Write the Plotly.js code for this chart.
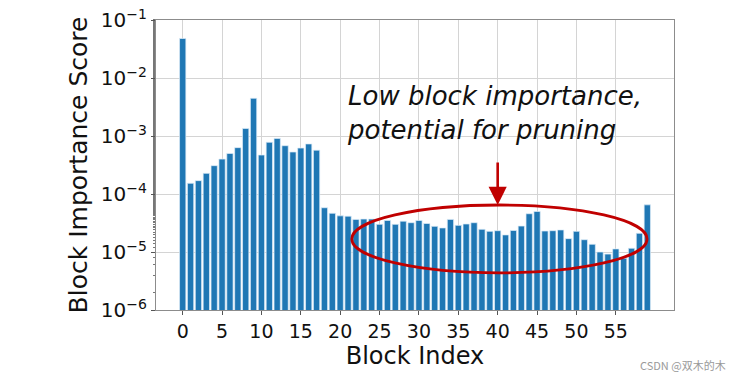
<!DOCTYPE html>
<html>
<head>
<meta charset="utf-8">
<script src="https://cdn.plot.ly/plotly-3.0.1.min.js"></script>
<style>html,body{margin:0;padding:0;background:#fff;}#chart{width:739px;height:378px;}</style>
</head>
<body>
<div id="chart"></div>
<script>
// Block indices 0..59
const blockIndex = [0,1,2,3,4,5,6,7,8,9,10,11,12,13,14,15,16,17,18,19,20,21,22,23,24,25,26,27,28,29,30,31,32,33,34,35,36,37,38,39,40,41,42,43,44,45,46,47,48,49,50,51,52,53,54,55,56,57,58,59];
// Block importance scores
const importance = [
  4.8e-2, 1.53e-4, 1.7e-4, 2.27e-4, 3.08e-4, 4.0e-4, 5.0e-4, 6.3e-4, 1.35e-3, 4.47e-3,
  4.7e-4, 7.8e-4, 9.1e-4, 6.8e-4, 5.3e-4, 6.2e-4, 7.3e-4, 5.7e-4, 5.8e-5, 4.65e-5,
  4.2e-5, 4.15e-5, 3.65e-5, 3.7e-5, 3.7e-5, 3.0e-5, 3.5e-5, 3.0e-5, 3.4e-5, 3.2e-5,
  3.5e-5, 3.1e-5, 2.77e-5, 2.6e-5, 3.65e-5, 2.88e-5, 3.04e-5, 3.2e-5, 2.46e-5, 2.27e-5,
  2.33e-5, 1.97e-5, 2.35e-5, 2.8e-5, 4.57e-5, 5.0e-5, 2.3e-5, 2.33e-5, 2.4e-5, 1.7e-5,
  2.27e-5, 1.63e-5, 1.36e-5, 1.0e-5, 9.2e-6, 1.13e-5, 7.8e-6, 1.16e-5, 2.1e-5, 6.5e-5
];
const xTickVals = [0,5,10,15,20,25,30,35,40,45,50,55];
const yTickVals = [1e-6,1e-5,1e-4,1e-3,1e-2,1e-1];
const yTickText = ['10<sup>−6</sup>','10<sup>−5</sup>','10<sup>−4</sup>','10<sup>−3</sup>','10<sup>−2</sup>','10<sup>−1</sup>'];
const xTitle = 'Block Index';
const yTitle = 'Block Importance Score';
const noteText = 'Low block importance,<br>potential for pruning';
const arrowBlock = 40;
const watermark = 'CSDN @双木的木';

const font = 'DejaVu Sans, sans-serif';
const red = '#c00000';

const trace = {
  type: 'bar',
  x: blockIndex,
  y: importance,
  width: 0.8,
  marker: {color: '#1f77b4', line: {color: 'rgba(220,235,248,0.9)', width: 0.8}},
  hoverinfo: 'x+y'
};

const layout = {
  width: 739, height: 378,
  margin: {l: 156, r: 65, t: 20, b: 68, pad: 0},
  paper_bgcolor: '#fff', plot_bgcolor: '#fff',
  showlegend: false,
  font: {family: font, color: '#111', size: 19},
  xaxis: {
    range: [-3.39, 62.39],
    tickvals: xTickVals,
    ticks: 'outside', ticklen: 4, tickcolor: '#555', tickwidth: 1,
    showgrid: true, gridcolor: '#d4d4d4', gridwidth: 1,
    zeroline: false,
    showline: true, linecolor: '#8c8c8c', linewidth: 1.2, mirror: true,
    tickfont: {family: font, size: 19, color: '#111'},
    title: {text: xTitle, font: {family: font, size: 24, color: '#111'}, standoff: 5}
  },
  yaxis: {
    type: 'log',
    range: [-6, -1],
    tickvals: yTickVals,
    ticktext: yTickText,
    ticks: 'outside', ticklen: 4, tickcolor: '#555', tickwidth: 1,
    minor: {ticks: 'outside', ticklen: 2, tickcolor: '#777', showgrid: false},
    showgrid: true, gridcolor: '#d4d4d4', gridwidth: 1,
    zeroline: false,
    showline: true, linecolor: '#8c8c8c', linewidth: 1.2, mirror: true,
    tickfont: {family: font, size: 20, color: '#111'},
    title: {text: yTitle, font: {family: font, size: 25, color: '#111'}, standoff: 6}
  },
  shapes: [{
    type: 'circle', xref: 'paper', yref: 'paper',
    x0: 0.378, x1: 0.948, y0: 0.128, y1: 0.362,
    line: {color: red, width: 2.8}
  }],
  annotations: [
    {
      xref: 'x', yref: 'paper', x: arrowBlock, y: 0.362,
      showarrow: true, arrowhead: 2, arrowsize: 1.4, arrowwidth: 2.6, arrowcolor: red,
      ax: 0, ay: -44, text: ''
    },
    {
      xref: 'paper', yref: 'paper', x: 0.365, y: 0.68,
      xanchor: 'left', yanchor: 'middle', align: 'left', showarrow: false,
      text: noteText,
      font: {family: 'DejaVu Sans, sans-serif', size: 26, color: '#111', style: 'italic'}
    },
    {
      xref: 'paper', yref: 'paper', x: 1.105, y: -0.19,
      xanchor: 'right', yanchor: 'middle', showarrow: false,
      text: watermark,
      font: {family: 'Noto Sans CJK SC, sans-serif', size: 11, color: '#9a9a9a'}
    }
  ]
};

Plotly.newPlot('chart', [trace], layout, {displayModeBar: false, staticPlot: true});
</script>
</body>
</html>
